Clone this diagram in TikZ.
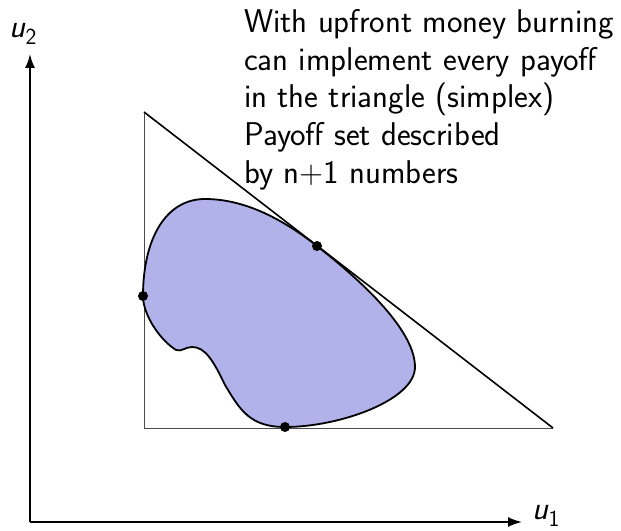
\documentclass[tikz,border=0pt]{standalone}
\usetikzlibrary{arrows.meta}
\definecolor{blobfill}{RGB}{177,178,234}
\begin{document}
\begin{tikzpicture}[x=1bp,y=-1bp,
  axis/.style={line width=1.8bp,-{Latex[length=14bp,width=10bp]}},
  lab/.style={font=\fontsize{33}{38}\selectfont\sffamily},
  dot/.style={circle,fill=black,inner sep=0pt,minimum size=10bp},
  blob/.style={draw=black,line width=1.8bp,fill=blobfill}]
\useasboundingbox (0,0) rectangle (621,531);
% axes
\coordinate (O) at (30,522);
\coordinate (Ytop) at (30,54);
\coordinate (Xend) at (522,522);
\draw[axis] (O) -- (Ytop);
\draw[axis] (O) -- (Xend);
\node[lab] (u2) at (23,34) {\textsl{u}\textsubscript{2}};
\node[lab] (u1) at (546,516) {\textsl{u}\textsubscript{1}};
% triangle
\coordinate (A) at (144,112);
\coordinate (B) at (144,428);
\coordinate (C) at (553,428);
\draw[line width=0.9bp,black!70] (A) -- (B) -- (C);
% blob
\draw[blob] (205,199)
  .. controls (250,199) and (290,225) .. (317,246)
  .. controls (345,268) and (415,325) .. (415,367)
  .. controls (415,400) and (340,427) .. (285,427)
  .. controls (250,427) and (240,410) .. (225,385)
  .. controls (213,360) and (205,347) .. (192,347)
  .. controls (185,347) and (182,352) .. (176,350)
  .. controls (160,340) and (143,315) .. (143,296)
  .. controls (143,240) and (165,199) .. (205,199) -- cycle;
\draw[line width=1.6bp] (A) -- (C);
% dots
\node[dot] (d1) at (143,296) {};
\node[dot] (d2) at (317,246) {};
\node[dot] (d3) at (285,427) {};
% text
\node[lab,anchor=north west,align=left,inner sep=0pt] (txt) at (244,9)
 {With upfront money burning\\can implement every payoff\\in the triangle (simplex)\\Payoff set described\\by n+1 numbers};
\end{tikzpicture}
\end{document}
